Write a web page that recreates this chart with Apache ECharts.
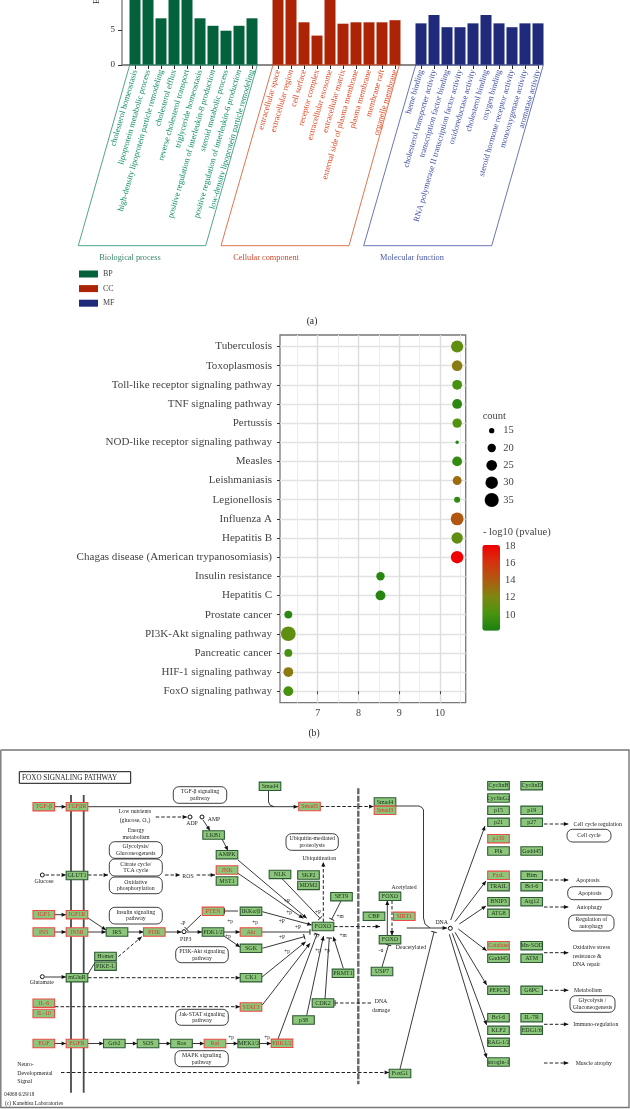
<!DOCTYPE html>
<html><head><meta charset="utf-8">
<style>html,body{margin:0;padding:0;background:#fff}#c{width:630px;height:1109px}</style>
<script src="https://cdn.jsdelivr.net/npm/echarts@6/dist/echarts.min.js"></script>
</head><body><div id="c"></div>
<script>
// ---------- panel (a) data ----------
const bpTerms = ['cholesterol homeostasis','lipoprotein metabolic process','high-density lipoprotein particle remodeling','cholesterol efflux','reverse cholesterol transport','triglyceride homeostasis','positive regulation of interleukin-8 production','steroid metabolic process','positive regulation of interleukin-6 production','low-density lipoprotein particle remodeling'];
const bpValues = [11,10,6.67,10,12,6.67,5.6,4.9,5.6,6.67];
const ccTerms = ['extracellular space','extracellular region','cell surface','receptor complex','extracellular exosome','extracellular matrix','external side of plasma membrane','plasma membrane','membrane raft','organelle membrane'];
const ccValues = [10,11,6.1,4.2,10,5.9,6.1,6.1,6.1,6.4];
const mfTerms = ['heme binding','cholesterol transporter activity','transcription factor binding','RNA polymerase II transcription factor activity','oxidoreductase activity','cholesterol binding','oxygen binding','steroid hormone receptor activity','monooxygenase activity','aromatase activity'];
const mfValues = [5.95,7.14,5.4,5.4,5.95,7.14,5.95,5.4,5.95,5.95];
// ---------- panel (b) data (bottom to top) ----------
const pathwayNames = ['FoxO signaling pathway','HIF-1 signaling pathway','Pancreatic cancer','PI3K-Akt signaling pathway','Prostate cancer','Hepatitis C','Insulin resistance','Chagas disease (American trypanosomiasis)','Hepatitis B','Influenza A','Legionellosis','Leishmaniasis','Measles','NOD-like receptor signaling pathway','Pertussis','TNF signaling pathway','Toll-like receptor signaling pathway','Toxoplasmosis','Tuberculosis'];
const richFactor = [6.28,6.28,6.28,6.28,6.28,8.54,8.54,10.42,10.42,10.42,10.42,10.42,10.42,10.42,10.42,10.42,10.42,10.42,10.42];
const geneCount = [23,23,19,37,19,23,20,30,27,31,16,21,23,13,22,23,23,25,29];
const logP = [10,12.7,10,11,9,8.7,8.8,18,11,14.2,9.2,13.3,9.3,8.5,10.5,9,10,12.6,11];
const countLegend = [15,20,25,30,35];
const pTicks = [10,12,14,16,18];
// ---------- panel (c) tables ----------
const diagramBoxes = [
['TGF-β',43.8,806.7,1],['TGFβR',77,806.7,1],['GLUT1',77,875.5,0],['IGF1',43.8,914.7,1],['IGF1R',77,914.7,1],['INS',43.8,932,1],['INSR',77,932,1],['IRS',117,932,0],['PI3K',154.3,932,1],['PDK1/2',213,932,0],['PTEN',213,911.3,1],['IKKα/β',251,911.3,0],['Akt',251,932,1],['SGK',251,948.3,0],['CK1',251,977.7,0],['STAT3',251,1007,1],
['Homer',105.5,956.4,0],['PIKE-L',105.5,966.2,0],['mGluR',77,977.7,0],['IL-6',43.8,1003.2,1],['IL-10',43.8,1013.5,1],['EGF',43.8,1043.5,1],['EGFR',77,1043.5,1],['Grb2',114.3,1043.5,0],['SOS',148,1043.5,0],['Ras',181.5,1043.5,0],['Raf',215,1043.5,1],['MEK1/2',248.7,1043.5,0],['ERK1/2',282,1043.3,1],['p38',303.5,1020,0],['CDK2',323,1003,0],['PRMT1',343,973.3,0],
['LKB1',213.6,835,0],['AMPK',227,854.7,0],['JNK',227,870,1],['MST1',227,881,0],['Smad4',270,786.3,0],['Smad3',309.5,806.5,1],['Smad4',385,802,0],['Smad3',385,810.3,1],['NLK',280,874.4,0],['SKP2',308.5,875,0],['MDM2',308.5,885.4,0],['SET9',341.5,896.7,0],['FOXO',323,926.5,0],['FOXO',390,896.3,0],['FOXO',390,939.7,0],['CBP',374,916.3,0],['SIRT1',404.3,916.3,1],['USP7',382,971.5,0],['FoxG1',400,1073.5,0],
['CyclinB',498.5,785.7,0],['CyclinD',531.7,785.7,0],['CyclinG2',498.5,798,0],['p15',498.5,810.3,0],['p19',531.7,810.3,0],['p21',498.5,822.3,0],['p27',531.7,822.3,0],['p130',498.5,838.7,1],['Plk',498.5,851,0],['Gadd45',531.7,851,0],['FasL',498.5,875.3,1],['Bim',531.7,875.3,0],['TRAIL',498.5,886.7,0],['Bcl-6',531.7,886.7,0],['BNIP3',498.5,901.7,0],['Atg12',531.7,901.7,0],['ATG8',498.5,913.3,0],['Catalase',498.5,945.7,1],['Mn-SOD',531.7,945.7,0],['Gadd45',498.5,958.3,0],['ATM',531.7,958.3,0],['PEPCK',498.5,990.3,0],['G6PC',531.7,990.3,0],['Bcl-6',498.5,1017.7,0],['IL-7R',531.7,1017.7,0],['KLF2',498.5,1030.3,0],['EDG1/6',531.7,1030.3,0],['RAG-1/2',498.5,1042.3,0],['atrogin-1',498.5,1062,0]
];
const diagramPills = [
[['TGF-β signaling','pathway'],173.3,786.7,226.7,803.3],[['Glycolysis/','Gluconeogenesis'],109.3,841.7,162.3,858.3],[['Citrate cycle/','TCA cycle'],109.3,859,162.3,876],[['Oxidative','phosphorylation'],109.3,877,162.3,893.7],[['Insulin signaling','pathway'],109.3,907.3,162.3,924],[['PI3K-Akt signaling','pathway'],175.7,946.7,228.3,962.7],[['Jak-STAT signaling','pathway'],175.7,1009.3,228.3,1025.3],[['MAPK signaling','pathway'],175,1050.7,228.3,1066.7],[['Ubiquitin-mediated','proteolysis'],286,833.7,338.3,850.3],[['Cell cycle'],567,829.3,611,842],[['Apoptosis'],567.7,886.7,612,899.7],[['Regulation of','autophagy'],568.7,915,614,931],[['Glycolysis /','Gluconeogenesis'],570,995.7,615,1012.3]
];
// [kind, x1,y1, x2,y2, ...]; a arrow, d dashed arrow, t tee, e dashed tee, l plain, m membrane, n nuclear membrane, bp/cc/mf term frames, o panel frame, f title frame
const diagramLinks = [
['o',0.8,750,629,750,629,1107.5,0.8,1107.5,0.8,750],['f',19.3,771.7,130.7,771.7,130.7,783.3,19.3,783.3,19.3,771.7],['m',71,795,71,1092.7],['m',83.7,795,83.7,1092.7],['n',358.3,788.3,358.3,1084.3],
['a',54.5,806.7,66,806.7],['a',88,806.7,298,806.7],['l',268.5,790.3,268.5,802,270,805,274,806.7],['d',320.3,806.5,373.5,806.5],['l',395.7,806,419,806,422,807.5,423.5,810,423.5,918,425,924,430,928],
['d',155.7,817,187,817],['a',203,820,210,830.5],['a',222,839,228,850.5],['d',45.5,875,66,875],['d',88,875,108,875],['d',165,875,180,875],['d',196.7,875,215,875],
['a',54.5,914.7,66,914.7],['a',54.5,932,66,932],['a',88,918,106,930],['a',88,932,106,932],['a',127.7,932,143.7,932],['a',165,932,181.5,932],['a',186.5,932,202,932],['a',224,932,240,932],['a',224,936,240,947],['t',201,915,186.5,929],['t',238,911,224.5,911],
['a',238,860,306.7,918.3],['a',238,873.3,303.3,918.3],['t',281.7,878.3,320,918.3],['a',262.3,911.7,311.7,925],['t',341,901,331.7,919.3],['d',323.3,922,323.3,862],['t',261.7,932,310,932],['t',262.3,948.3,304.3,936.7],['a',261.7,977.3,305.7,941.7],['a',262.3,1005,310,943.3],['t',278,1039,317,934],['a',306.7,1015.5,323.5,936],['t',325,999,329.3,938],['a',343.3,968.3,333.3,936.7],['e',371,1003,335,1003],
['d',334,926.6,380,926.6],['a',406.7,928,447,928],['a',387.3,935.5,387.3,900.5],['d',392,900.5,392,935.5],['t',382,967,388.5,945],['t',400,1069,434,932],
['d',118.3,956.7,141.7,936.7],['l',88,974,94.7,963],['a',45,977,66,977],['d',88,977.7,240,977.7],['d',55,1006.7,240,1006.7],
['a',54.5,1043.5,66,1043.5],['a',88,1043.5,103.7,1043.5],['a',125,1043.5,137.3,1043.5],['a',158.7,1043.5,171,1043.5],['a',192,1043.5,204.3,1043.5],['a',226,1043.5,238,1043.5],['a',259.3,1043.5,271.3,1043.5],['d',61,1072.5,389,1072.5],
['a',450.7,920,485,826],['a',455,921.7,486,881],['a',459.3,924,486,906],['a',458.3,929,486.7,950.7],['a',455,932.3,486.7,985],['a',452.3,933.3,486.7,1025],['a',449.3,934.3,486.7,1058],
['d',544,824,568.3,824],['d',544,880,568.3,880],['d',544,907,568.3,907],['d',544,952.7,568.3,952.7],['d',544,990.3,568.3,990.3],['d',544,1024.3,568.3,1024.3],['d',544,1063,568.3,1063],
['bp',129.7,65,78.3,245.7,205.7,245.7,257.3,65],['cc',273,65,221,245.7,349,245.7,399.3,65],['mf',415.7,65,363.7,245.7,491.7,245.7,543.3,65]
];
const diagramCircles = [[190,817],[202,817],[42.3,875],[184,931.7],[42.3,976.7],[450.3,928.3]];
// text, x, y, size, align, colour, rotation
const ink = '#1e1e1e', soft = '#444';
const diagramTexts = [
['FOXO SIGNALING PATHWAY',22,777.7,7.2,'left',ink],['Low nutrients',135,811.7,5.8,'center',ink],['(glucose, O₂)',135,820.3,5.8,'center',ink],['ADP',192,823.5,5.8,'center',ink],['AMP',214,819,5.8,'center',ink],['Energy',136,830,5.8,'center',ink],['metabolism',136,837.3,5.8,'center',ink],['Glucose',44,881.5,5.8,'center',ink],['ROS',188,876,5.8,'center',ink],['PIP3',185.7,939.3,5.8,'center',ink],['Glutamate',41.7,982.5,5.8,'center',ink],['-P',183,923,5.8,'center',ink],
['Ubiquitination',319.3,858,5.8,'center',ink],['Acetylated',404,887.7,5.8,'center',ink],['Deacetylated',411,947.7,5.8,'center',ink],['DNA',441.7,922.7,5.8,'center',ink],['-u',381,950,5.8,'center',ink],['DNA',381,1001,5.8,'center',ink],['damage',381,1010,5.8,'center',ink],
['+p',230,922,5.4,'center',ink],['+p',228,937,5.4,'center',ink],['+p',255,923,5.4,'center',ink],['+P',287,902,5.4,'center',ink],['+p',289,912.7,5.4,'center',ink],['+P',281.7,921.7,5.4,'center',ink],['+P',318,913,5.4,'center',ink],['+m',340,916.3,5.4,'center',ink],['+P',298,927.7,5.4,'center',ink],['+P',282,937.5,5.4,'center',ink],['+p',287,952,5.4,'center',ink],['+p',316,936,5.4,'center',ink],['+p',318,951,5.4,'center',ink],['+p',327,951,5.4,'center',ink],['+m',343,936,5.4,'center',ink],['+p',231,1037.5,5.4,'center',ink],['+p',267,1037.5,5.4,'center',ink],
['Neuro-',17.3,1064.7,5.8,'left',ink],['Developmental',17.3,1073,5.8,'left',ink],['Signal',17.3,1081,5.8,'left',ink],['04068 6/29/18',4.3,1095,5.2,'left',ink],['(c) Kanehisa Laboratories',5,1103.7,5.6,'left',ink],
['Cell cycle regulation',597.7,824,5.8,'center',ink],['Apoptosis',587.7,880.7,5.8,'center',ink],['Autophagy',589.3,907,5.8,'center',ink],['Oxidative stress',572.7,947.7,5.8,'left',ink],['resistance &',572.7,956,5.8,'left',ink],['DNA repair',572.7,964.3,5.8,'left',ink],['Metabolism',574,990,5.8,'left',ink],['Immuno-regulation',573.3,1024.7,5.8,'left',ink],['Muscle atrophy',575.7,1063,5.8,'left',ink],
['Biological process',130,257.7,8.3,'center','#3a8468'],['Cellular component',266,257.7,8.3,'center','#d0492d'],['Molecular function',412,257.7,8.3,'center','#4757a6'],
['(a)',312,321.7,9.6,'center',ink],['(b)',314,733,9.6,'center',ink],['Enrichment score',97,4,9,'left',ink,Math.PI/2],
['count',482.7,416.7,10.5,'left',soft],['- log10 (pvalue)',483,532.3,10.5,'left',soft]
];
const countLegendPos = [[491.7,430.7],[491.7,448],[491.7,465.3],[491.7,482.7],[491.7,500]];
const countLabelX = 503.3, pLabelX = 505, pTickY = [615,597.6,580.6,563,546];

// ---------- helpers ----------
const FONT = '"Liberation Serif","Times New Roman",serif';
const COL = {bp:'#03623b', cc:'#ac2405', mf:'#1f2b7a', bpT:'#0f8c66', ccT:'#dc4620', mfT:'#3f4ea3'};
const axisCats = ['',...bpTerms,'',...ccTerms,'',...mfTerms];
const pad = (v, start) => axisCats.map((_, i) => (i >= start && i < start + v.length) ? v[i - start] : null);
const dotSize = c => Math.sqrt(8.54 * (c - 13) + 11);
const linkStyle = {
  a:{stroke:'#222',lineWidth:.9}, d:{stroke:'#222',lineWidth:1,lineDash:[3.5,2]}, t:{stroke:'#222',lineWidth:.9}, e:{stroke:'#222',lineWidth:1,lineDash:[3.5,2]}, l:{stroke:'#222',lineWidth:.9},
  m:{stroke:'#4a4a4a',lineWidth:1.8}, n:{stroke:'#666',lineWidth:2.4,lineDash:[6,1.5]}, o:{stroke:'#777',lineWidth:1.4}, f:{stroke:'#111',lineWidth:1},
  bp:{stroke:'#3f9a82',lineWidth:.9}, cc:{stroke:'#d9653f',lineWidth:.9}, mf:{stroke:'#5a67ae',lineWidth:.9}
};
const P = (api,x,y) => api.coord([x,y]);
function renderLink(params, api){
  const L = diagramLinks[api.value(0)], kind = L[0], pts = [];
  for (let i = 1; i < L.length; i += 2) pts.push(P(api, L[i], L[i+1]));
  if (kind==='bp'||kind==='cc'||kind==='mf') pts.push(pts[0]);
  const ch = [{type:'polyline',shape:{points:pts},style:{...linkStyle[kind],fill:null}}];
  const e = pts[pts.length-1], s = pts[pts.length-2];
  const a = Math.atan2(e[1]-s[1], e[0]-s[0]), c = Math.cos(a), n = Math.sin(a);
  if (kind==='a'||kind==='d') ch.push({type:'polygon',shape:{points:[[e[0],e[1]],[e[0]-4.4*c-2*n,e[1]-4.4*n+2*c],[e[0]-4.4*c+2*n,e[1]-4.4*n-2*c]]},style:{fill:'#111'}});
  if (kind==='t'||kind==='e') ch.push({type:'line',shape:{x1:e[0]-2.8*n,y1:e[1]+2.8*c,x2:e[0]+2.8*n,y2:e[1]-2.8*c},style:{stroke:'#222',lineWidth:1}});
  return {type:'group',children:ch};
}
function renderBox(params, api){
  const b = diagramBoxes[api.value(0)], p = P(api,b[1],b[2]), red = b[3]===1;
  return {type:'group',children:[
    {type:'rect',shape:{x:p[0]-10.8,y:p[1]-4.2,width:21.6,height:8.4},style:{fill:'#8cc67a',stroke:red?'#ec4a44':'#2d5a35',lineWidth:1.1}},
    {type:'text',style:{x:p[0],y:p[1],text:b[0],fontFamily:FONT,fontSize:6,align:'center',verticalAlign:'middle',fill:red?'#d8392a':'#16301a'}}
  ]};
}
function renderPill(params, api){
  const b = diagramPills[api.value(0)], p = P(api,b[1],b[2]), q = P(api,b[3],b[4]), lines = b[0];
  const ch = [{type:'rect',shape:{x:p[0],y:p[1],width:q[0]-p[0],height:q[1]-p[1],r:5.5},style:{fill:'#fff',stroke:'#2a2a2a',lineWidth:.9}}];
  lines.forEach((t,i)=>ch.push({type:'text',style:{x:(p[0]+q[0])/2,y:(p[1]+q[1])/2+(i-(lines.length-1)/2)*6.6,text:t,fontFamily:FONT,fontSize:5.8,align:'center',verticalAlign:'middle',fill:ink}}));
  return {type:'group',children:ch};
}
function renderText(params, api){
  const t = diagramTexts[api.value(0)], p = P(api,t[1],t[2]);
  const el = {type:'text',style:{text:t[0],fontFamily:FONT,fontSize:t[3],align:t[4],verticalAlign:'middle',fill:t[5]}};
  el.x = p[0]; el.y = p[1]; el.rotation = t[6] || 0;
  return el;
}
function renderCircle(params, api){
  const c = diagramCircles[api.value(0)], p = P(api,c[0],c[1]);
  return {type:'circle',shape:{cx:p[0],cy:p[1],r:2},style:{fill:'#fff',stroke:'#111',lineWidth:1}};
}
function renderNum(params, api){
  const i = api.value(0);
  const isCount = i < countLegend.length;
  const p = isCount ? P(api,countLabelX,countLegendPos[i][1]) : P(api,pLabelX,pTickY[i-countLegend.length]);
  const v = isCount ? countLegend[i] : pTicks[i-countLegend.length];
  return {type:'text',style:{x:p[0],y:p[1],text:String(v),fontFamily:FONT,fontSize:10.5,align:'left',verticalAlign:'middle',fill:soft}};
}
const idx = a => a.map((_,i)=>[i]);
const overlay = (name,data,fn,z) => ({type:'custom',name,xAxisIndex:3,yAxisIndex:2,data,renderItem:fn,z,clip:false,silent:true,encode:{x:0},animation:false});

const chart = echarts.init(document.getElementById('c'));
chart.setOption({
  animation:false, backgroundColor:'#fff',
  textStyle:{fontFamily:FONT},
  legend:{data:['BP','CC','MF'],orient:'vertical',left:79,top:270,padding:0,itemWidth:19,itemHeight:7,itemGap:6.6,icon:'rect',selectedMode:false,textStyle:{fontFamily:FONT,fontSize:8,color:'#444'}},
  grid:[
    {left:122,top:-75,width:416,height:140,outerBoundsMode:'none'},
    {left:280,top:335,width:185.7,height:367.7,show:true,borderColor:'#777',borderWidth:1.3,backgroundColor:'#fff',outerBoundsMode:'none'},
    {left:0,top:0,width:630,height:1109,outerBoundsMode:'none'}
  ],
  xAxis:[
    {type:'category',gridIndex:0,data:axisCats,boundaryGap:false,
     axisLine:{lineStyle:{color:'#8a8a8a',width:2}},
     axisTick:{length:4,alignWithLabel:true,interval:(i,v)=>v!=='',lineStyle:{color:'#222',width:1}},
     axisLabel:{interval:0,rotate:74,margin:5,fontSize:8.3,fontFamily:FONT,
       color:v=>bpTerms.includes(v)?COL.bpT:ccTerms.includes(v)?COL.ccT:COL.mfT}},
    {type:'value',gridIndex:1,min:6.076,max:10.63,
     axisLine:{show:false},
     axisTick:{length:3,customValues:[7,8,9,10],lineStyle:{color:'#444'}},
     axisLabel:{customValues:[7,8,9,10],fontSize:10,color:soft,fontFamily:FONT,margin:6},
     splitLine:{show:true,lineStyle:{color:'#dcdcdc',width:1.4}}},
    {type:'value',gridIndex:1,position:'top',min:6.076,max:10.63,
     axisLine:{show:false},axisLabel:{show:false},
     axisTick:{show:false,customValues:[6.5,7.5,8.5,9.5,10.5]},
     splitLine:{show:true,lineStyle:{color:'#ececec',width:1}}},
    {type:'value',gridIndex:2,min:0,max:630,show:false}
  ],
  yAxis:[
    {type:'value',gridIndex:0,min:0,max:20,interval:5,
     axisLine:{show:true,lineStyle:{color:'#8a8a8a',width:1.5}},
     axisTick:{show:true,length:4,lineStyle:{color:'#333'}},
     axisLabel:{fontSize:9,color:'#333',fontFamily:FONT,margin:7},splitLine:{show:false}},
    {type:'value',gridIndex:1,min:-0.6,max:18.6,
     axisLine:{show:false},
     axisTick:{show:true,length:3,customValues:pathwayNames.map((_,i)=>i),lineStyle:{color:'#333',width:1}},
     axisLabel:{customValues:pathwayNames.map((_,i)=>i),formatter:v=>pathwayNames[v],fontSize:11.05,color:soft,fontFamily:FONT,margin:8},
     splitLine:{show:true,lineStyle:{color:'#e2e2e2',width:1.4}}},
    {type:'value',gridIndex:2,min:0,max:1109,inverse:true,show:false}
  ],
  visualMap:{type:'continuous',seriesIndex:1,dimension:3,min:8.2,max:18.1,left:482.3,top:545,padding:0,itemWidth:17.7,itemHeight:85.7,calculable:false,
    inRange:{color:['#1a8012','#4a9410','#7f8610','#b05810','#d63210','#f00000']}},
  series:[
    {type:'bar',name:'BP',xAxisIndex:0,yAxisIndex:0,data:pad(bpValues,1),barWidth:11,barGap:'-100%',itemStyle:{color:COL.bp},silent:true},
    {type:'scatter',name:'enrichment',xAxisIndex:1,yAxisIndex:1,
      data:richFactor.map((x,i)=>[x,i,geneCount[i],logP[i]]),symbolSize:d=>dotSize(d[2]),itemStyle:{opacity:1},silent:true,z:5,clip:false},
    {type:'bar',name:'CC',xAxisIndex:0,yAxisIndex:0,data:pad(ccValues,12),barWidth:11,barGap:'-100%',itemStyle:{color:COL.cc},silent:true},
    {type:'bar',name:'MF',xAxisIndex:0,yAxisIndex:0,data:pad(mfValues,23),barWidth:11,barGap:'-100%',itemStyle:{color:COL.mf},silent:true},
    {type:'scatter',name:'count legend',xAxisIndex:3,yAxisIndex:2,data:countLegend.map((c,i)=>[countLegendPos[i][0],countLegendPos[i][1],c]),symbolSize:d=>dotSize(d[2]),itemStyle:{color:'#000',opacity:1},silent:true,z:6},
    overlay('links',idx(diagramLinks),renderLink,10),
    overlay('pills',idx(diagramPills),renderPill,11),
    overlay('circles',idx(diagramCircles),renderCircle,11),
    overlay('boxes',idx(diagramBoxes),renderBox,12),
    overlay('texts',idx(diagramTexts),renderText,13),
    overlay('numbers',[...countLegend,...pTicks].map((_,i)=>[i]),renderNum,13)
  ]
});
</script></body></html>
